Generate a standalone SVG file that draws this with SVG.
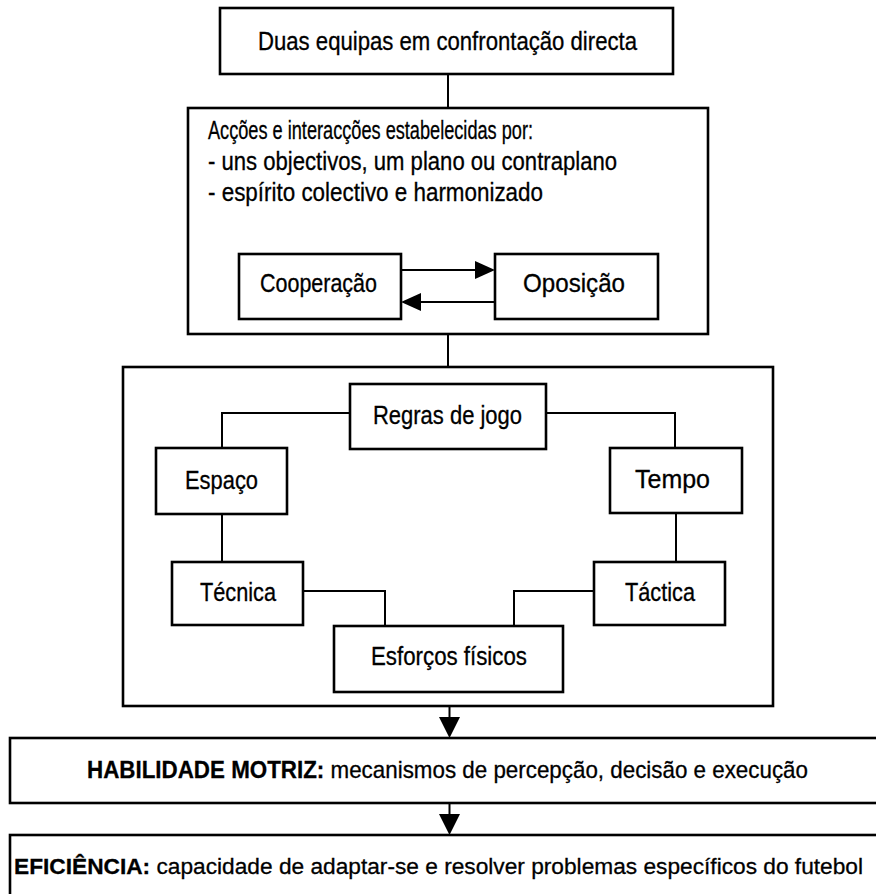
<svg xmlns="http://www.w3.org/2000/svg" width="876" height="894" viewBox="0 0 876 894">
<style>
.box{fill:#fff;stroke:#000;stroke-width:2.6}
.frame{fill:none;stroke:#000;stroke-width:2.6}
.ln{fill:none;stroke:#000;stroke-width:2}
.t{font-family:"Liberation Sans",Arial,sans-serif;font-size:25px;fill:#000;stroke:#000;stroke-width:0.3}
.b{font-weight:bold}
</style>
<rect width="876" height="894" fill="#fff"/>
<g id="n-duas">
<rect class="box" x="220" y="8" width="453" height="66"/>
<text class="t" x="258" y="50" textLength="379" lengthAdjust="spacingAndGlyphs">Duas equipas em confrontação directa</text>
</g>
<g id="n-accoes">
<rect class="frame" x="188" y="108" width="520" height="226"/>
<text class="t" x="208" y="139" textLength="325" lengthAdjust="spacingAndGlyphs">Acções e interacções estabelecidas por:</text>
<text class="t" x="208" y="170" textLength="409" lengthAdjust="spacingAndGlyphs">- uns objectivos, um plano ou contraplano</text>
<text class="t" x="208" y="201" textLength="335" lengthAdjust="spacingAndGlyphs">- espírito colectivo e harmonizado</text>
</g>
<g id="n-cooperacao">
<rect class="box" x="239" y="254" width="162" height="65"/>
<text class="t" x="260" y="292" textLength="117" lengthAdjust="spacingAndGlyphs">Cooperação</text>
</g>
<g id="n-oposicao">
<rect class="box" x="495" y="254" width="163" height="65"/>
<text class="t" x="523" y="292" textLength="102" lengthAdjust="spacingAndGlyphs">Oposição</text>
</g>
<g id="n-frame">
<rect class="frame" x="123" y="367" width="650" height="339"/>
</g>
<g id="n-regras">
<rect class="box" x="350" y="384" width="196" height="65"/>
<text class="t" x="373" y="424" textLength="149" lengthAdjust="spacingAndGlyphs">Regras de jogo</text>
</g>
<g id="n-espaco">
<rect class="box" x="156" y="448" width="131" height="66"/>
<text class="t" x="185" y="489" textLength="73" lengthAdjust="spacingAndGlyphs">Espaço</text>
</g>
<g id="n-tempo">
<rect class="box" x="610" y="448" width="132" height="65"/>
<text class="t" x="635" y="488" textLength="75" lengthAdjust="spacingAndGlyphs">Tempo</text>
</g>
<g id="n-tecnica">
<rect class="box" x="172" y="562" width="131" height="63"/>
<text class="t" x="200" y="601" textLength="76" lengthAdjust="spacingAndGlyphs">Técnica</text>
</g>
<g id="n-tactica">
<rect class="box" x="594" y="562" width="131" height="63"/>
<text class="t" x="625" y="601" textLength="70" lengthAdjust="spacingAndGlyphs">Táctica</text>
</g>
<g id="n-esforcos">
<rect class="box" x="334" y="626" width="229" height="66"/>
<text class="t" x="371" y="665" textLength="156" lengthAdjust="spacingAndGlyphs">Esforços físicos</text>
</g>
<g id="n-habilidade">
<rect class="box" x="10" y="738" width="880" height="65"/>
<text class="t" x="87" y="778" textLength="721" lengthAdjust="spacingAndGlyphs" style="font-size:24px"><tspan class="b">HABILIDADE MOTRIZ:</tspan> mecanismos de percepção, decisão e execução</text>
</g>
<g id="n-eficiencia">
<rect class="box" x="10" y="835" width="880" height="80"/>
<text class="t" x="14" y="874" textLength="849" lengthAdjust="spacingAndGlyphs" style="font-size:22.7px"><tspan class="b">EFICIÊNCIA:</tspan> capacidade de adaptar-se e resolver problemas específicos do futebol</text>
</g>
<g id="connectors">
<path class="ln" d="M448,74 V108"/>
<path class="ln" d="M448,334 V367"/>
<path class="ln" d="M402,270 H478"/>
<polygon points="475,261 495,270 475,279"/>
<path class="ln" d="M494,302 H418"/>
<polygon points="421,293 401,302 421,311"/>
<path class="ln" d="M350,413 H222 V448"/>
<path class="ln" d="M546,413 H675 V448"/>
<path class="ln" d="M222,514 V562"/>
<path class="ln" d="M676,513 V562"/>
<path class="ln" d="M303,591 H385 V626"/>
<path class="ln" d="M594,591 H514 V626"/>
<path class="ln" d="M449.5,706 V720"/>
<polygon points="439,717 460,717 449.5,738"/>
<path class="ln" d="M449.5,803 V817"/>
<polygon points="439,814 460,814 449.5,835"/>
</g>
</svg>
